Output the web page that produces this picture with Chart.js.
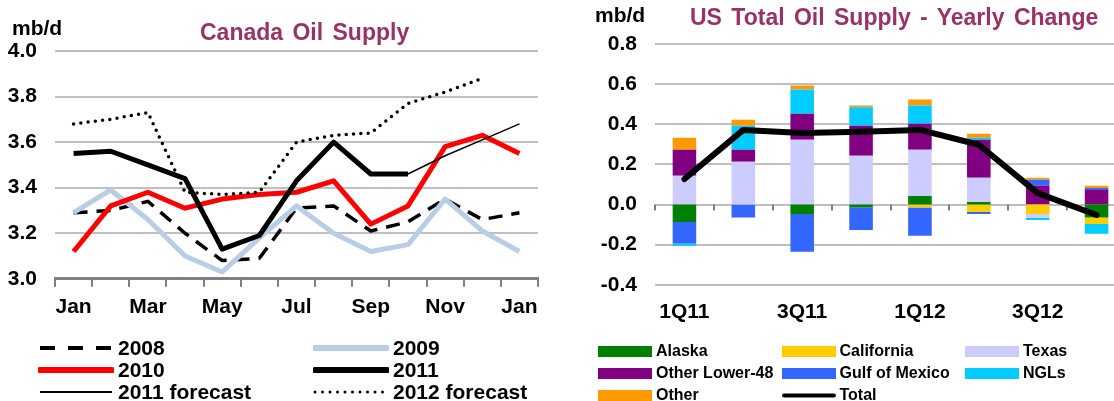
<!DOCTYPE html>
<html>
<head>
<meta charset="utf-8">
<title>Canada / US oil supply</title>
<script src="https://cdn.jsdelivr.net/npm/chart.js@4/dist/chart.umd.min.js"></script>
<style>
  html, body { margin: 0; padding: 0; background: #fff; overflow: hidden; }
  body { width: 1114px; height: 401px; position: relative;
         font-family: "Liberation Sans", Arial, sans-serif; font-weight: bold; color: #000; }
  .abs { position: absolute; white-space: nowrap; }
  .unit { font-size: 21px; line-height: 21px; }
  .title { font-size: 23px; line-height: 23px; color: #993366; word-spacing: 3px; }
  canvas { position: absolute; top: 0; }
  .lg { position: absolute; display: flex; align-items: center; height: 22px; white-space: nowrap; }
  .lg svg { display: block; }
  .lgL { font-size: 21px; }
  .lgR { font-size: 16px; }
</style>
</head>
<body>
<canvas id="canada" width="557" height="350" style="left:0"></canvas>
<canvas id="usSupply" width="540" height="350" style="left:590px"></canvas>

<div class="abs unit" style="left:12px;top:17px">mb/d</div>
<div class="abs title" style="left:200px;top:21px">Canada Oil Supply</div>
<div class="abs unit" style="left:595px;top:4px">mb/d</div>
<div class="abs title" style="left:690px;top:6px">US Total Oil Supply - Yearly Change</div>
<div id="legendLeft"></div>
<div id="legendRight"></div>

<script>
// ---- Canada oil supply (mb/d), monthly, Jan..Jan
const months = ['Jan','Feb','Mar','Apr','May','Jun','Jul','Aug','Sep','Oct','Nov','Dec','Jan'];
const y2008 = [3.29, 3.30, 3.34, 3.20, 3.08, 3.09, 3.31, 3.32, 3.21, 3.25, 3.35, 3.26, 3.29];
const y2009 = [3.29, 3.39, 3.26, 3.10, 3.03, 3.18, 3.32, 3.20, 3.12, 3.15, 3.35, 3.21, 3.12];
const y2010 = [3.12, 3.32, 3.38, 3.31, 3.35, 3.37, 3.38, 3.43, 3.24, 3.32, 3.58, 3.63, 3.55];
const y2011 = [3.55, 3.56, 3.50, 3.44, 3.13, 3.19, 3.43, 3.60, 3.46, 3.46, null, null, null];
const f2011 = [null, null, null, null, null, null, null, null, null, 3.46, 3.54, 3.61, 3.68];
const f2012 = [3.68, 3.70, 3.73, 3.38, 3.37, 3.38, 3.60, 3.63, 3.64, 3.77, 3.82, 3.88, null];
const leftTicks = { min: 3.0, max: 4.0, step: 0.2 };

// ---- US total oil supply, yearly change (mb/d), quarterly
const quarters = ['1Q11','2Q11','3Q11','4Q11','1Q12','2Q12','3Q12','4Q12'];
const alaska     = [-0.087, 0, -0.047, -0.015, 0.043, 0.013, 0, -0.065];
const california = [0, 0, 0, 0, -0.015, -0.037, -0.047, -0.032];
const texas      = [0.143, 0.213, 0.323, 0.243, 0.23, 0.12, -0.02, 0];
const otherL48   = [0.13, 0.06, 0.13, 0.15, 0.13, 0.19, 0.093, 0.073];
const gulf       = [-0.107, -0.065, -0.188, -0.112, -0.14, -0.01, 0.03, 0.01];
const ngls       = [-0.012, 0.12, 0.12, 0.092, 0.09, 0.01, -0.01, -0.048];
const other      = [0.06, 0.03, 0.02, 0.008, 0.03, 0.02, 0.01, 0.01];
const total      = [0.127, 0.372, 0.356, 0.363, 0.372, 0.298, 0.057, -0.052];
const rightTicks = { min: -0.4, max: 0.8, step: 0.2 };

const FONT = '"Liberation Sans", Arial, sans-serif';
const tickFont = { family: FONT, size: 21, weight: 'bold' };
const GRID = '#BFBFBF', AXIS = '#808080';

// fixed axis widths so the plot areas land where the original ones are
const fixWidth = w => scale => { scale.width = w; };
const noSidePad = scale => { scale.paddingLeft = 0; scale.paddingRight = 0; };

// ---------- left chart
const lineSeries = [
  { label: '2008', data: y2008, color: '#000', width: 3.5, dash: [14, 9] },
  { label: '2009', data: y2009, color: '#B9CDE5', width: 5, dash: [] },
  { label: '2010', data: y2010, color: '#FF0000', width: 5, dash: [] },
  { label: '2011', data: y2011, color: '#000', width: 5, dash: [] },
  { label: '2011 forecast', data: f2011, color: '#000', width: 1.5, dash: [] },
  { label: '2012 forecast', data: f2012, color: '#000', width: 3.5, dash: [0, 7.3], cap: 'round' }
];

new Chart(document.getElementById('canada'), {
  type: 'line',
  data: {
    labels: months,
    datasets: lineSeries.map((s, i) => ({
      label: s.label, data: s.data,
      borderColor: s.color, borderWidth: s.width, borderDash: s.dash,
      borderCapStyle: s.cap || 'butt', borderJoinStyle: 'round',
      pointRadius: 0, tension: 0, fill: false, spanGaps: false,
      order: lineSeries.length - i
    }))
  },
  options: {
    responsive: false, animation: false,
    layout: { padding: { left: 8, right: 19, top: 51, bottom: 22 } },
    plugins: { legend: { display: false }, tooltip: { enabled: false } },
    scales: {
      x: {
        offset: true,
        afterFit: noSidePad,
        grid: { offset: true, drawOnChartArea: false, drawTicks: true, tickLength: 8, color: AXIS, lineWidth: 2 },
        border: { display: true, color: AXIS, width: 3 },
        ticks: { autoSkip: false, maxRotation: 0, padding: 8, font: tickFont, color: '#000',
                 callback: (v, i) => i % 2 === 0 ? months[i] : '' }
      },
      y: {
        min: leftTicks.min, max: leftTicks.max,
        afterFit: fixWidth(47),
        grid: { color: GRID, lineWidth: 2, drawTicks: false, tickLength: 0 },
        border: { display: false },
        ticks: { stepSize: leftTicks.step, padding: 18, font: tickFont, color: '#000',
                 callback: v => Number(v).toFixed(1) }
      }
    }
  }
});

// ---------- right chart
const barSeries = [
  { label: 'Alaska', data: alaska, color: '#008000' },
  { label: 'California', data: california, color: '#FFCC00' },
  { label: 'Texas', data: texas, color: '#CCCCFF' },
  { label: 'Other Lower-48', data: otherL48, color: '#800080' },
  { label: 'Gulf of Mexico', data: gulf, color: '#3366FF' },
  { label: 'NGLs', data: ngls, color: '#00CCFF' },
  { label: 'Other', data: other, color: '#FF9900' }
];

// small tick marks hanging under the zero line
const zeroTicks = {
  id: 'zeroTicks',
  beforeDatasetsDraw(chart) {
    const { ctx, scales: { x, y } } = chart;
    const y0 = y.getPixelForValue(0);
    const step = x.width / quarters.length;
    ctx.save();
    ctx.strokeStyle = AXIS;
    ctx.lineWidth = 2;
    ctx.beginPath();
    for (let i = 0; i <= quarters.length; i++) {
      const px = Math.round(x.left + i * step);
      ctx.moveTo(px, y0);
      ctx.lineTo(px, y0 + 6);
    }
    ctx.stroke();
    ctx.restore();
  }
};

new Chart(document.getElementById('usSupply'), {
  type: 'bar',
  data: {
    labels: quarters,
    datasets: [
      { type: 'line', label: 'Total', data: total, stack: 'total', order: 0,
        borderColor: '#000', borderWidth: 6, pointRadius: 0, tension: 0,
        borderJoinStyle: 'round', borderCapStyle: 'round', fill: false },
      ...barSeries.map(s => ({
        label: s.label, data: s.data, backgroundColor: s.color, borderWidth: 0,
        stack: 'us', order: 1, barPercentage: 0.4, categoryPercentage: 1
      }))
    ]
  },
  options: {
    responsive: false, animation: false,
    layout: { padding: { left: 10, right: 4, top: 44, bottom: 10 } },
    plugins: { legend: { display: false }, tooltip: { enabled: false } },
    scales: {
      x: {
        stacked: true,
        afterFit: noSidePad,
        grid: { display: false, drawTicks: false, tickLength: 0 },
        border: { display: false },
        ticks: { autoSkip: false, maxRotation: 0, padding: 15, font: tickFont, color: '#000',
                 callback: (v, i) => i % 2 === 0 ? quarters[i] : '' }
      },
      y: {
        stacked: true,
        min: rightTicks.min, max: rightTicks.max,
        afterFit: fixWidth(55),
        grid: { drawTicks: false, tickLength: 0,
                color: c => c.tick && c.tick.value === 0 ? AXIS : GRID,
                lineWidth: c => c.tick && c.tick.value === 0 ? 3 : 2 },
        border: { display: false },
        ticks: { stepSize: rightTicks.step, padding: 18, font: tickFont, color: '#000',
                 callback: v => Number(v).toFixed(1) }
      }
    }
  },
  plugins: [zeroTicks]
});

// ---------- HTML legends
function lineSample(s, w) {
  const cap = s.cap || 'butt';
  const dash = s.dash.length ? `stroke-dasharray="${s.dash.join(' ')}"` : '';
  return `<svg width="${w}" height="12"><line x1="2" y1="6" x2="${w - 2}" y2="6" stroke="${s.color}"
    stroke-width="${s.width}" stroke-linecap="${cap}" ${dash}/></svg>`;
}

const legL = document.getElementById('legendLeft');
const legendLeftStyle = [
  { label: '2008', color: '#000', width: 4, dash: [15, 13] },
  { label: '2009', color: '#B9CDE5', width: 6, dash: [], cap: 'round' },
  { label: '2010', color: '#FF0000', width: 6, dash: [], cap: 'round' },
  { label: '2011', color: '#000', width: 6, dash: [], cap: 'round' },
  { label: '2011 forecast', color: '#000', width: 2, dash: [] },
  { label: '2012 forecast', color: '#000', width: 3, dash: [0, 7.5], cap: 'round' }
];
legendLeftStyle.forEach((s, i) => {
  const col = i % 2, row = Math.floor(i / 2);
  const el = document.createElement('div');
  el.className = 'lg lgL';
  el.style.left = (col ? 313 : 38) + 'px';
  el.style.top = (337 + row * 22) + 'px';
  el.innerHTML = lineSample(s, 76) + `<span style="margin-left:4px">${s.label}</span>`;
  legL.appendChild(el);
});

const legR = document.getElementById('legendRight');
const rightItems = barSeries.concat([{ label: 'Total', color: '#000', line: true }]);
rightItems.forEach((s, i) => {
  const col = i % 3, row = Math.floor(i / 3);
  const el = document.createElement('div');
  el.className = 'lg lgR';
  el.style.left = (598 + col * 183.5) + 'px';
  el.style.top = (340 + row * 22) + 'px';
  const swatch = s.line
    ? `<svg width="54" height="11"><line x1="2" y1="5.5" x2="52" y2="5.5" stroke="#000" stroke-width="4" stroke-linecap="round"/></svg>`
    : `<div style="width:54px;height:11px;background:${s.color}"></div>`;
  el.innerHTML = swatch + `<span style="margin-left:4px">${s.label}</span>`;
  legR.appendChild(el);
});
</script>
</body>
</html>
